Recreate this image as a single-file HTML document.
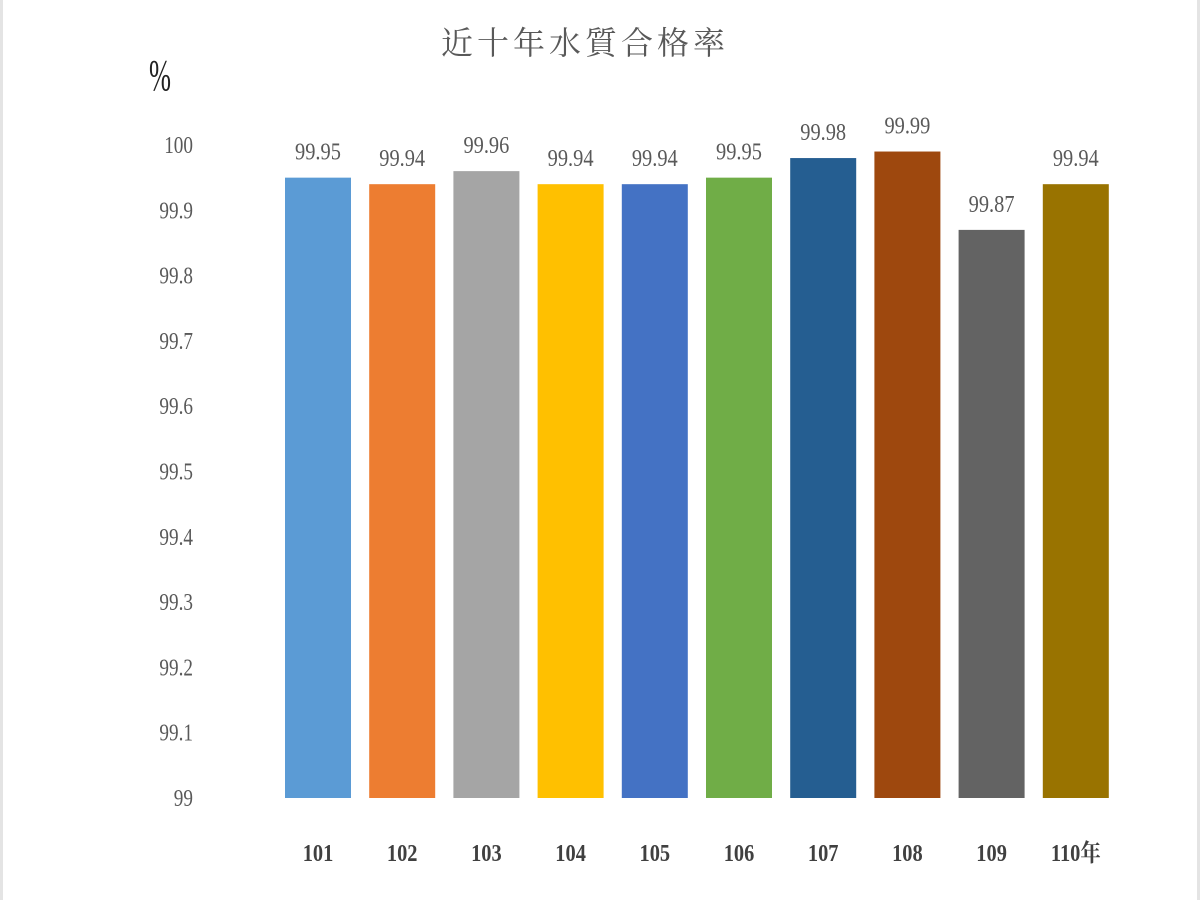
<!DOCTYPE html>
<html><head><meta charset="utf-8"><style>
html,body{margin:0;padding:0;background:#fff;}
#wrap{position:relative;width:1200px;height:900px;box-sizing:border-box;border-left:3px solid #e4e4e4;border-right:3px solid #e4e4e4;}
svg text{font-family:"Liberation Serif","Noto Serif CJK SC",serif;}
</style></head><body>
<div id="wrap">
<svg id="chart" width="1194" height="900"></svg>
</div>
<script>
const categories=["101","102","103","104","105","106","107","108","109","110年"];
const values=[99.95,99.94,99.96,99.94,99.94,99.95,99.98,99.99,99.87,99.94];
const valueLabels=["99.95","99.94","99.96","99.94","99.94","99.95","99.98","99.99","99.87","99.94"];
const tickValues=[99,99.1,99.2,99.3,99.4,99.5,99.6,99.7,99.8,99.9,100];
const tickLabels=["99","99.1","99.2","99.3","99.4","99.5","99.6","99.7","99.8","99.9","100"];
const colors=["#5b9bd5","#ed7d31","#a5a5a5","#ffc000","#4472c4","#70ad47","#255e91","#9e480e","#636363","#997300"];
const NS="http://www.w3.org/2000/svg";
const svg=document.getElementById("chart");
const y0=798,y1=145,vmin=99,vmax=100;
function yScale(v){return y0-(v-vmin)/(vmax-vmin)*(y0-y1);}
const xStart=282,step=84.2,bw=66;
function xScale(i){return xStart+i*step;}
function mk(tag,attrs,txt){const e=document.createElementNS(NS,tag);for(const k in attrs)e.setAttribute(k,attrs[k]);if(txt!==undefined)e.textContent=txt;svg.appendChild(e);return e;}
let t=mk("text",{x:582,y:54,"text-anchor":"middle","font-size":32,fill:"#595959","letter-spacing":"4"},"近十年水質合格率");


t=mk("text",{x:157,y:90,"text-anchor":"middle","font-size":44,fill:"#222",transform:"translate(157,0) scale(0.6,1) translate(-157,0)"},"%");


tickValues.forEach((v,i)=>{
  const e=mk("text",{x:190,y:yScale(v)+8,"text-anchor":"end","font-size":24,fill:"#595959",transform:`translate(190,0) scale(0.8,1) translate(-190,0)`},tickLabels[i]);
  
  
});
values.forEach((v,i)=>{
  const x=xScale(i);
  const r=mk("rect",{x:x,y:yScale(v),width:bw,height:y0-yScale(v),fill:colors[i]});
  
  
  const cx=x+bw/2;
  const l=mk("text",{x:cx,y:yScale(v)-18,"text-anchor":"middle","font-size":24,fill:"#595959",transform:`translate(${cx},0) scale(0.85,1) translate(${-cx},0)`},valueLabels[i]);
  
  
  const c=mk("text",{x:cx,y:861,"text-anchor":"middle","font-size":24,"font-weight":"bold",fill:"#404040",transform:`translate(${cx},0) scale(0.85,1) translate(${-cx},0)`},categories[i]);
  
  
});
</script>
</body></html>
